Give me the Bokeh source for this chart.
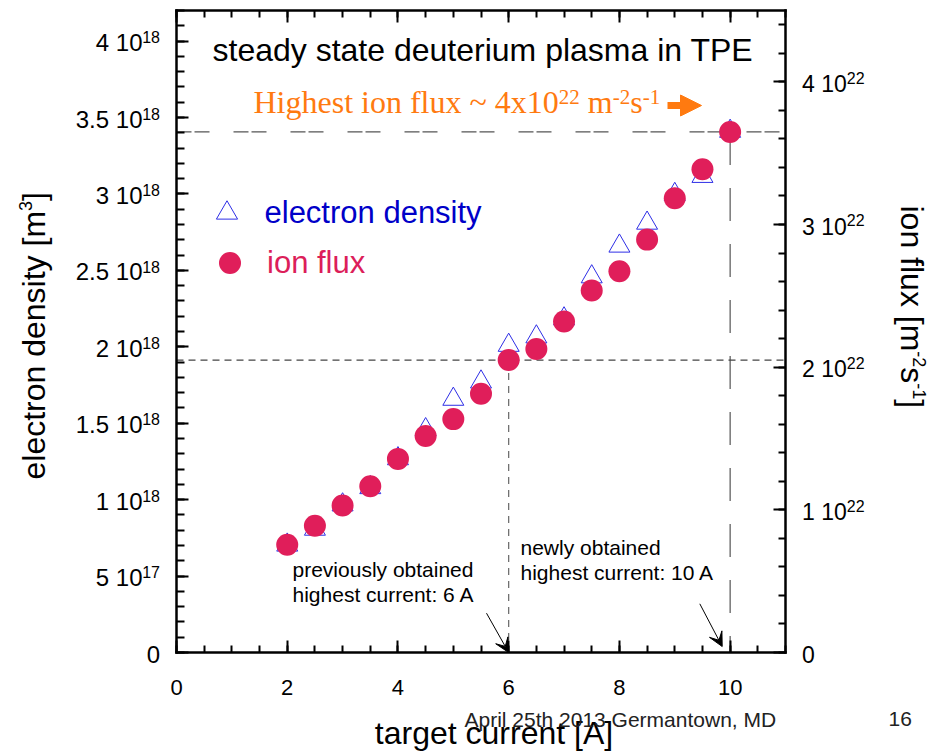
import math
from bokeh.plotting import figure
from bokeh.models import (Range1d, LinearAxis, FixedTicker, Label, Arrow, VeeHead,
                          NormalHead, Legend, LegendItem, CustomJSTickFormatter)
from bokeh.embed import file_html
from bokeh.resources import INLINE

# ---- measured data -------------------------------------------------------
# target current [A]
current = [2.0, 2.5, 3.0, 3.5, 4.0, 4.5, 5.0, 5.5, 6.0, 6.5, 7.0, 7.5, 8.0, 8.5, 9.0, 9.5, 10.0]
# electron density [m^-3]
electron_density = [0.703e18, 0.807e18, 0.966e18, 1.079e18, 1.268e18, 1.458e18, 1.657e18,
                    1.770e18, 2.010e18, 2.065e18, 2.183e18, 2.458e18, 2.659e18, 2.809e18,
                    2.997e18, 3.115e18, 3.410e18]
# ion flux [m^-2 s^-1]
ion_flux = [0.755e22, 0.888e22, 1.030e22, 1.165e22, 1.357e22, 1.517e22, 1.636e22,
            1.813e22, 2.050e22, 2.128e22, 2.320e22, 2.537e22, 2.672e22, 2.894e22,
            3.184e22, 3.387e22, 3.649e22]

previous_max_current = 6.0
new_max_current = 10.0

# ---- axes ticks and labels -----------------------------------------------
x_ticks = [0, 2, 4, 6, 8, 10]
x_tick_labels = ["0", "2", "4", "6", "8", "10"]
x_minor_ticks = [0.5 * i for i in range(23)]

ne_ticks = [0.0, 0.5e18, 1.0e18, 1.5e18, 2.0e18, 2.5e18, 3.0e18, 3.5e18, 4.0e18]
ne_tick_base = ["0", "5 10", "1 10", "1.5 10", "2 10", "2.5 10", "3 10", "3.5 10", "4 10"]
ne_tick_exp = ["", "17", "18", "18", "18", "18", "18", "18", "18"]
ne_minor_ticks = [0.1e18 * i for i in range(43)]

flux_ticks = [0.0, 1e22, 2e22, 3e22, 4e22]
flux_tick_base = ["0", "1 10", "2 10", "3 10", "4 10"]
flux_tick_exp = ["", "22", "22", "22", "22"]
flux_minor_ticks = [0.2e22 * i for i in range(23)]

X_MAX = 11.0
NE_MAX = 4.2e18
FLUX_MAX = 4.5e22

# ---- page geometry -------------------------------------------------------
W, H = 931, 754
FL, FR, FT, FB = 176, 785, 10, 652   # edges of the boxed plotting area, page pixels

PX_X = (FR - FL) / X_MAX             # pixels per ampere
PX_NE = (FB - FT) / NE_MAX           # pixels per unit density
PX_FLUX = (FB - FT) / FLUX_MAX       # pixels per unit flux

SANS = "Liberation Sans"
SERIF = "Liberation Serif"
BASELINE_FIX = 0.39                  # em shift so that text sits on the requested baseline

# advance widths (per 1000 em) for the glyphs used in composed labels
ARIAL = {" ": 278, ".": 278, "-": 333, "[": 278, "]": 278, "i": 222, "o": 556, "n": 556,
         "f": 278, "l": 222, "u": 556, "x": 500, "m": 833, "s": 500, "e": 556, "c": 500,
         "t": 278, "r": 333, "d": 556, "y": 500}
ARIAL.update({str(d): 556 for d in range(10)})
TIMES = {" ": 250, "H": 722, "i": 278, "g": 500, "h": 500, "e": 444, "s": 389, "t": 278,
         "o": 500, "n": 500, "f": 333, "l": 278, "u": 500, "x": 500, "~": 541, "m": 778,
         "-": 333}
TIMES.update({str(d): 500 for d in range(10)})


def text_width(s, size, table):
    return sum(table[c] for c in s) * size / 1000.0


def px_to_x(px):
    return (px - FL) / PX_X


def py_to_ne(py):
    return (FB - py) / PX_NE


# the frame fills the page; the boxed axes are drawn at fixed data locations
p = figure(width=W, height=H,
           x_range=Range1d(-FL / PX_X, X_MAX + (W - FR) / PX_X),
           y_range=Range1d(-(H - FB) / PX_NE, NE_MAX + FT / PX_NE),
           output_backend="svg", toolbar_location=None, min_border=0)
p.extra_y_ranges = {"flux": Range1d(-(H - FB) / PX_FLUX, FLUX_MAX + FT / PX_FLUX)}
p.xgrid.visible = False
p.ygrid.visible = False
p.outline_line_color = None
p.background_fill_color = "white"
p.border_fill_color = "white"

blank = CustomJSTickFormatter(code="return ''")


def style_axis(ax, ticks, minor, major_in, minor_in, location, bounds):
    ax.ticker = FixedTicker(ticks=ticks, minor_ticks=minor)
    ax.formatter = blank
    ax.fixed_location = location
    ax.bounds = bounds
    ax.axis_line_color = "black"
    ax.axis_line_width = 2.5
    ax.axis_line_cap = "square"
    ax.major_tick_in = major_in
    ax.major_tick_out = 0
    ax.minor_tick_in = minor_in
    ax.minor_tick_out = 0
    ax.major_tick_line_width = 2
    ax.minor_tick_line_width = 2
    ax.major_tick_line_color = "black"
    ax.minor_tick_line_color = "black"
    ax.major_label_text_font_size = "0px"
    ax.major_label_standoff = 0
    ax.axis_label_standoff = 0


style_axis(p.xaxis[0], x_ticks, x_minor_ticks, 12, 7, 0.0, (0, X_MAX))
style_axis(p.yaxis[0], ne_ticks, ne_minor_ticks, 12, 8, 0.0, (0, NE_MAX))
top_axis = LinearAxis()
style_axis(top_axis, x_ticks, x_minor_ticks, 12, 7, NE_MAX, (0, X_MAX))
p.add_layout(top_axis, "above")
right_axis = LinearAxis(y_range_name="flux")
style_axis(right_axis, flux_ticks, flux_minor_ticks, 12, 7, X_MAX, (0, FLUX_MAX))
p.add_layout(right_axis, "right")


def add_text(text, x, y, size, dx=0.0, dy=0.0, font=SANS, color="black", align="left",
             angle=0.0, y_range_name="default"):
    """Text on an alphabetic baseline at data (x, y) moved by (dx, dy) page pixels."""
    shift = BASELINE_FIX * size
    if angle == 0:
        dy -= shift
    elif angle > 0:
        dx -= shift
    else:
        dx += shift
    p.add_layout(Label(x=x, y=y, x_offset=dx, y_offset=-dy, text=text, text_font=font,
                       text_font_size=f"{size}px", text_color=color, text_align=align,
                       text_baseline="alphabetic", angle=angle, y_range_name=y_range_name))


def page_text(text, px, py, size, **kw):
    add_text(text, 0.0, 0.0, size, dx=px - FL, dy=py - FB, **kw)


def runs(parts, table):
    """Offsets of consecutive text runs (text, size, rise); leading blanks become gaps."""
    pos, out = 0.0, []
    for text, size, rise in parts:
        body = text.lstrip(" ")
        lead = text_width(text[:len(text) - len(body)], size, table)
        out.append((body, size, pos + lead, rise))
        pos += text_width(text, size, table)
    return out


# ---- reference lines -----------------------------------------------------
i_prev = current.index(previous_max_current)
i_new = current.index(new_max_current)
p.segment(x0=[0], y0=[ion_flux[i_new]], x1=[X_MAX], y1=[ion_flux[i_new]], y_range_name="flux",
          line_color="#555555", line_width=1.2, line_dash="15 3 15 24")
p.segment(x0=[current[i_new]], y0=[ion_flux[i_new]], x1=[current[i_new]], y1=[0],
          y_range_name="flux", line_color="#555555", line_width=1.2, line_dash="33 23")
p.segment(x0=[0], y0=[ion_flux[i_prev]], x1=[X_MAX], y1=[ion_flux[i_prev]], y_range_name="flux",
          line_color="#444444", line_width=1.2, line_dash="7 5")
p.segment(x0=[current[i_prev]], y0=[ion_flux[i_prev]], x1=[current[i_prev]], y1=[0],
          y_range_name="flux", line_color="#666666", line_width=1.2, line_dash="7 6")

# ---- data ----------------------------------------------------------------
tri = p.scatter(current, electron_density, marker="triangle", size=21,
                fill_color=None, line_color="#2E2EE6", line_width=1)
dots = p.scatter(current, ion_flux, marker="circle", size=22, y_range_name="flux",
                 fill_color="#E01E5A", line_color=None)


def legend_entry(renderer, label, color, left, bottom, glyph, standoff):
    lg = Legend(items=[LegendItem(label=label, renderers=[renderer])],
                location=(left, H - bottom),
                glyph_width=glyph, glyph_height=glyph, label_standoff=standoff,
                label_text_font=SANS, label_text_font_size="31px", label_text_color=color,
                border_line_color=None, background_fill_alpha=0, padding=0, margin=0,
                spacing=0, label_height=glyph)
    p.add_layout(lg)


legend_entry(tri, "electron density", "#0000C8", 199.5, 239, 53, 12)
legend_entry(dots, "ion flux", "#DC1E5A", 202, 290, 55, 10)

# ---- tick labels ---------------------------------------------------------
for v, base, exp in zip(ne_ticks, ne_tick_base, ne_tick_exp):
    if exp:
        add_text(base, 0.0, v, 24, dx=142 - FL, dy=11, align="right")
        add_text(exp, 0.0, v, 16, dx=159.5 - FL, dy=2.5, align="right")
    else:
        add_text(base, 0.0, v, 24, dx=159.5 - FL, dy=11, align="right")

for v, base, exp in zip(flux_ticks, flux_tick_base, flux_tick_exp):
    add_text(base, X_MAX, v, 23, dx=801.5 - FR, dy=11, y_range_name="flux")
    if exp:
        add_text(exp, X_MAX, v, 16, dx=801.5 - FR + text_width(base, 23, ARIAL), dy=2,
                 y_range_name="flux")

for v, lab in zip(x_ticks, x_tick_labels):
    add_text(lab, v, 0.0, 22, dy=44, align="center")

# ---- axis titles ---------------------------------------------------------
page_text("target current [A]", 493.5, 745, 32, align="center")

for text, size, pos, rise in runs([("electron density [m", 32, 0), ("3", 18, 13),
                                   ("]", 32, 0)], ARIAL):
    page_text(text, 45.5 - rise, 479 - pos, size, angle=math.pi / 2)

for text, size, pos, rise in runs([("ion flux [m", 32, 0), ("-2", 18, 13), ("s", 32, 0),
                                   ("-1", 18, 13), ("]", 32, 0)], ARIAL):
    page_text(text, 899 + rise, 205 + pos, size, angle=-math.pi / 2)

# ---- annotations ---------------------------------------------------------
page_text("steady state deuterium plasma in TPE", 212, 62, 32)

ORANGE = "#FF7A10"
for text, size, pos, rise in runs([("Highest ion flux ~ 4x10", 32, 0), ("22", 21, 9),
                                   (" m", 32, 0), ("-2", 21, 9), ("s", 32, 0),
                                   ("-1", 21, 9)], TIMES):
    page_text(text, 253 + pos, 114 - rise, size, font=SERIF, color=ORANGE)

p.add_layout(Arrow(x_start=px_to_x(667), y_start=py_to_ne(105),
                   x_end=px_to_x(701), y_end=py_to_ne(105),
                   line_color=ORANGE, line_width=7,
                   end=NormalHead(size=21, fill_color=ORANGE, line_color=ORANGE)))

page_text("previously obtained", 292, 577, 21)
page_text("highest current: 6 A", 292, 602, 21)
page_text("newly obtained", 520, 555, 21)
page_text("highest current: 10 A", 520, 580, 21)

p.add_layout(Arrow(x_start=px_to_x(486), y_start=py_to_ne(612.7),
                   x_end=previous_max_current, y_end=0.0,
                   line_color="black", line_width=1,
                   end=VeeHead(size=14, fill_color="black", line_color="black")))
p.add_layout(Arrow(x_start=px_to_x(699.3), y_start=py_to_ne(603.3),
                   x_end=px_to_x(721.7), y_end=py_to_ne(646),
                   line_color="black", line_width=1,
                   end=VeeHead(size=14, fill_color="black", line_color="black")))

page_text("April 25th 2013 Germantown, MD", 464, 727, 21, color="#222222")
page_text("16", 888, 727, 21, color="#222222")

open("out.html", "w").write(file_html(p, INLINE))
